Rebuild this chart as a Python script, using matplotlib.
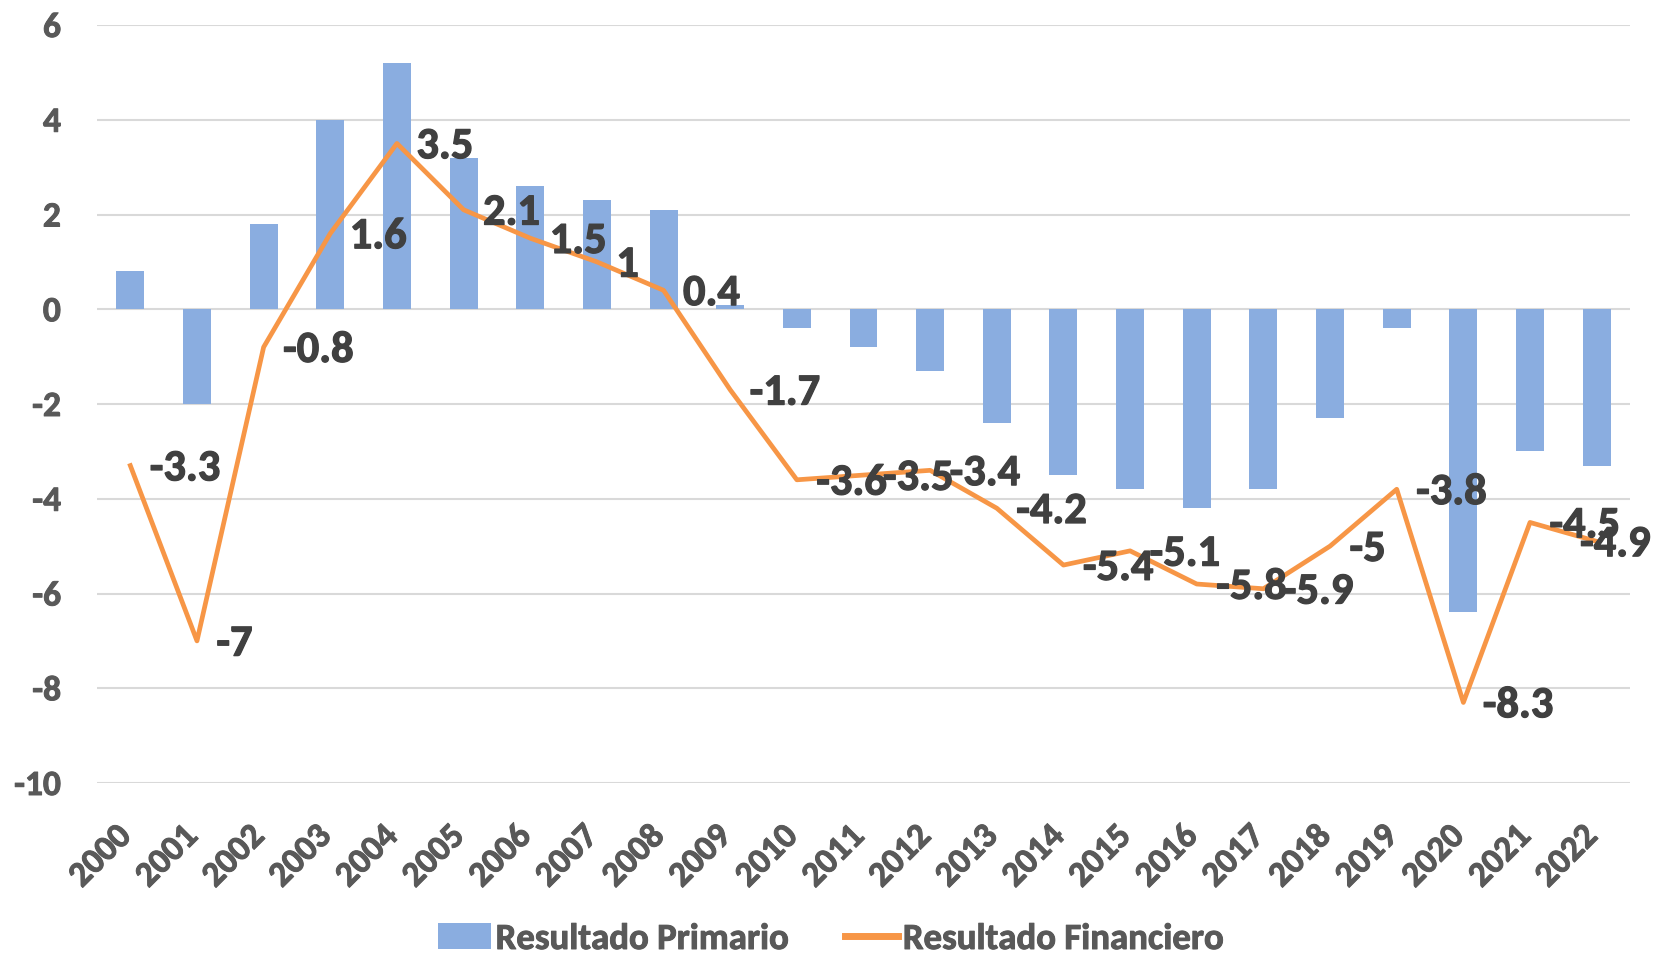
import matplotlib
matplotlib.use('Agg')
import matplotlib.pyplot as plt
import matplotlib.patheffects as pe
import matplotlib.transforms as mtransforms
import numpy as np

years = [str(y) for y in range(2000, 2023)]
primario = [0.8, -2.0, 1.8, 4.0, 5.2, 3.2, 2.6, 2.3, 2.1, 0.1, -0.4, -0.8,
            -1.3, -2.4, -3.5, -3.8, -4.2, -3.8, -2.3, -0.4, -6.4, -3.0, -3.3]
financiero = [-3.3, -7, -0.8, 1.6, 3.5, 2.1, 1.5, 1, 0.4, -1.7, -3.6, -3.5,
              -3.4, -4.2, -5.4, -5.1, -5.8, -5.9, -5, -3.8, -8.3, -4.5, -4.9]
yticks = [6, 4, 2, 0, -2, -4, -6, -8, -10]

plt.rcParams['font.family'] = ['Carlito', 'DejaVu Sans']
plt.rcParams['font.weight'] = 'bold'

bar_color = '#8AADE0'
line_color = '#F79646'
label_color = '#404040'
tick_color = '#595959'

fig = plt.figure(figsize=(16.54, 9.57), dpi=100)
ax = fig.add_axes([97 / 1654, 1 - 783 / 957, (1630 - 97) / 1654, (783 - 25) / 957])

x = np.arange(len(years))
bars = ax.bar(x, primario, width=0.42, color=bar_color, zorder=2)
line, = ax.plot(x, financiero, color=line_color, lw=3.4, zorder=3)

heavy = [pe.withStroke(linewidth=0.9, foreground=label_color)]
for i, (xi, v) in enumerate(zip(x, financiero)):
    if i == len(x) - 1:
        # last label is pushed inside the chart, as the original does
        ax.annotate(f'{v:g}', (0.998, v), xycoords=('figure fraction', 'data'),
                    xytext=(0, -2), textcoords='offset points', ha='right', va='center',
                    fontsize=32, fontweight='bold', color=label_color, zorder=4,
                    annotation_clip=False, path_effects=heavy)
    else:
        ax.annotate(f'{v:g}', (xi, v), xytext=(14, -2), textcoords='offset points',
                    ha='left', va='center', fontsize=32, fontweight='bold',
                    color=label_color, zorder=4, annotation_clip=False, path_effects=heavy)

ax.set_xlim(-0.5, len(years) - 0.5)
ax.set_ylim(-10, 6)
ax.set_yticks(yticks)
ax.set_yticklabels([str(t) for t in yticks])
ax.set_xticks(x)
ax.set_xticklabels(years, rotation=45, ha='right', va='top')
ax.tick_params(axis='both', length=0, colors=tick_color, labelsize=25.5)
ax.tick_params(axis='x', pad=27)
ax.tick_params(axis='y', pad=26)
tick_heavy = [pe.withStroke(linewidth=0.7, foreground=tick_color)]
shift = mtransforms.ScaledTranslation(6 / 100, 0, fig.dpi_scale_trans)
for lab in ax.get_xticklabels():
    lab.set_transform(lab.get_transform() + shift)
for lab in ax.get_xticklabels() + ax.get_yticklabels():
    lab.set_fontweight('bold')
    lab.set_path_effects(tick_heavy)

ax.grid(axis='y', color='#D9D9D9', lw=1.5, zorder=0)
ax.set_axisbelow(True)
for s in ax.spines.values():
    s.set_visible(False)

leg = fig.legend([bars, line], ['Resultado Primario', 'Resultado Financiero'],
                 loc='center', bbox_to_anchor=(0.502, 1 - 939 / 957), ncol=2,
                 frameon=False, fontsize=26.5, handlelength=1.45, columnspacing=1.55,
                 handletextpad=0.12)
leg.get_lines()[0].set_linewidth(5)
for t in leg.get_texts():
    t.set_color(tick_color)
    t.set_fontweight('bold')
    t.set_path_effects(tick_heavy)

fig.savefig('out.png', dpi=100)
plt.close(fig)
